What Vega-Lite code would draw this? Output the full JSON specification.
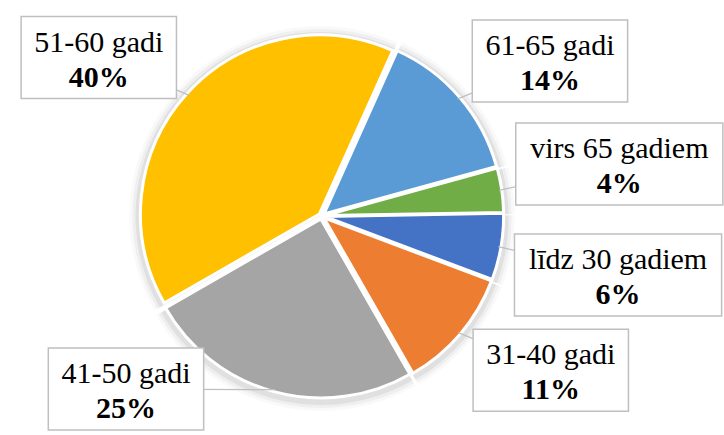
{
  "$schema": "https://vega.github.io/schema/vega-lite/v6.json",
  "width": 724,
  "height": 435,
  "autosize": {"type": "fit", "contains": "padding"},
  "padding": 0,
  "background": "white",
  "view": {"stroke": null},
  "data": {
    "values": [
      {"cat": "līdz 30 gadiem", "share": 0.06},
      {"cat": "31-40 gadi", "share": 0.11},
      {"cat": "41-50 gadi", "share": 0.25},
      {"cat": "51-60 gadi", "share": 0.40},
      {"cat": "61-65 gadi", "share": 0.14},
      {"cat": "virs 65 gadiem", "share": 0.04}
    ]
  },
  "transform": [
    {"window": [{"op": "row_number", "as": "idx"}, {"op": "sum", "field": "share", "as": "cum"}], "frame": [null, 0]},
    {"joinaggregate": [{"op": "sum", "field": "share", "as": "tot"}]},
    {"calculate": "1.553 + 2 * PI * (datum.cum - datum.share) / datum.tot", "as": "start"},
    {"calculate": "1.553 + 2 * PI * datum.cum / datum.tot", "as": "end"},
    {"calculate": "(datum.start + datum.end) / 2", "as": "mid"},
    {"calculate": "datum.mid % (2 * PI)", "as": "m"},
    {"calculate": "(datum.m > 2.36 && datum.m < 3.85) ? (datum.m < PI ? 2.36 : 3.85) : datum.m", "as": "la"},
    {"calculate": "3 * sin(datum.mid)", "as": "ex"},
    {"calculate": "3 * cos(datum.mid)", "as": "ey"},
    {"calculate": "datum.ey - 2", "as": "sy"},
    {"calculate": "180 * sin(datum.mid)", "as": "tx"},
    {"calculate": "180 * cos(datum.mid)", "as": "ty"},
    {"calculate": "302 * sin(datum.la)", "as": "cx"},
    {"calculate": "(cos(datum.la) < 0 ? -1 : 1) * 211 * pow(abs(cos(datum.la)), 0.72)", "as": "cy"},
    {"calculate": "13 * length(datum.cat) + 26", "as": "bw"},
    {"calculate": "datum.cx - datum.bw / 2", "as": "bx1"},
    {"calculate": "datum.cx + datum.bw / 2", "as": "bx2"},
    {"calculate": "datum.cy - 41", "as": "by1"},
    {"calculate": "datum.cy + 41", "as": "by2"}
  ],
  "layer": [
    {
      "mark": {"type": "arc", "outerRadius": 190, "fill": "#000000", "opacity": 0.025},
      "encoding": {
        "theta": {"field": "start", "type": "quantitative", "scale": null},
        "theta2": {"field": "end"},
        "x": {"field": "ex", "type": "quantitative", "scale": {"domain": [-323, 401], "nice": false, "zero": false}, "axis": null},
        "y": {"field": "sy", "type": "quantitative", "scale": {"domain": [-219, 216], "nice": false, "zero": false}, "axis": null}
      }
    },
    {
      "mark": {"type": "arc", "outerRadius": 187, "fill": "#000000", "opacity": 0.04},
      "encoding": {
        "theta": {"field": "start", "type": "quantitative", "scale": null},
        "theta2": {"field": "end"},
        "x": {"field": "ex", "type": "quantitative"},
        "y": {"field": "sy", "type": "quantitative"}
      }
    },
    {
      "mark": {"type": "arc", "outerRadius": 184, "fill": "#000000", "opacity": 0.06},
      "encoding": {
        "theta": {"field": "start", "type": "quantitative", "scale": null},
        "theta2": {"field": "end"},
        "x": {"field": "ex", "type": "quantitative"},
        "y": {"field": "sy", "type": "quantitative"}
      }
    },
    {
      "mark": {"type": "arc", "outerRadius": 179, "stroke": "white", "strokeWidth": 3},
      "encoding": {
        "theta": {"field": "start", "type": "quantitative", "scale": null},
        "theta2": {"field": "end"},
        "x": {"field": "ex", "type": "quantitative"},
        "y": {"field": "ey", "type": "quantitative"},
        "color": {
          "field": "cat", "type": "nominal", "legend": null,
          "scale": {
            "domain": ["līdz 30 gadiem", "31-40 gadi", "41-50 gadi", "51-60 gadi", "61-65 gadi", "virs 65 gadiem"],
            "range": ["#4472C4", "#ED7D31", "#A5A5A5", "#FFC000", "#5B9BD5", "#70AD47"]
          }
        }
      }
    },
    {
      "mark": {"type": "rule", "color": "#BFBFBF", "strokeWidth": 1.3},
      "encoding": {
        "x": {"field": "cx", "type": "quantitative"},
        "y": {"field": "cy", "type": "quantitative"},
        "x2": {"field": "tx"},
        "y2": {"field": "ty"}
      }
    },
    {
      "mark": {"type": "rect", "fill": "white", "stroke": "#BFBFBF", "strokeWidth": 1.5},
      "encoding": {
        "x": {"field": "bx1", "type": "quantitative"},
        "x2": {"field": "bx2"},
        "y": {"field": "by1", "type": "quantitative"},
        "y2": {"field": "by2"}
      }
    },
    {
      "mark": {"type": "text", "font": "Liberation Serif", "fontSize": 30, "color": "#000000", "align": "center", "baseline": "alphabetic", "dy": -6},
      "encoding": {
        "x": {"field": "cx", "type": "quantitative"},
        "y": {"field": "cy", "type": "quantitative"},
        "text": {"field": "cat", "type": "nominal"}
      }
    },
    {
      "mark": {"type": "text", "font": "Liberation Serif", "fontSize": 30, "fontWeight": "bold", "color": "#000000", "align": "center", "baseline": "alphabetic", "dy": 29},
      "encoding": {
        "x": {"field": "cx", "type": "quantitative"},
        "y": {"field": "cy", "type": "quantitative"},
        "text": {"field": "share", "type": "quantitative", "format": ".0%"}
      }
    }
  ]
}
